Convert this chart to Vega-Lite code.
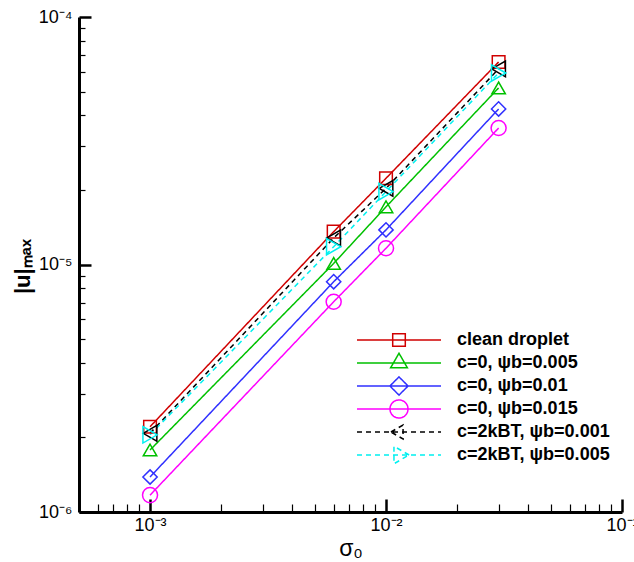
{
  "$schema": "https://vega.github.io/schema/vega-lite/v6.json",
  "width": 543,
  "height": 495,
  "autosize": {"type": "none"},
  "padding": {"left": 79, "top": 17, "right": 12, "bottom": 50},
  "background": "white",
  "config": {"view": {"stroke": null}, "font": "Liberation Sans"},
  "data": {
    "values": [
      {"series": "clean droplet", "sigma": 0.001, "u": 2.21e-6},
      {"series": "clean droplet", "sigma": 0.006, "u": 1.357e-5},
      {"series": "clean droplet", "sigma": 0.01, "u": 2.23e-5},
      {"series": "clean droplet", "sigma": 0.03, "u": 6.58e-5},
      {"series": "c=0, ψb=0.005", "sigma": 0.001, "u": 1.78e-6},
      {"series": "c=0, ψb=0.005", "sigma": 0.006, "u": 1.01e-5},
      {"series": "c=0, ψb=0.005", "sigma": 0.01, "u": 1.71e-5},
      {"series": "c=0, ψb=0.005", "sigma": 0.03, "u": 5.17e-5},
      {"series": "c=0, ψb=0.01", "sigma": 0.001, "u": 1.385e-6},
      {"series": "c=0, ψb=0.01", "sigma": 0.006, "u": 8.52e-6},
      {"series": "c=0, ψb=0.01", "sigma": 0.01, "u": 1.38e-5},
      {"series": "c=0, ψb=0.01", "sigma": 0.03, "u": 4.25e-5},
      {"series": "c=0, ψb=0.015", "sigma": 0.001, "u": 1.17e-6},
      {"series": "c=0, ψb=0.015", "sigma": 0.006, "u": 7.07e-6},
      {"series": "c=0, ψb=0.015", "sigma": 0.01, "u": 1.163e-5},
      {"series": "c=0, ψb=0.015", "sigma": 0.03, "u": 3.56e-5},
      {"series": "c=2kBT, ψb=0.001", "sigma": 0.001, "u": 2.08e-6},
      {"series": "c=2kBT, ψb=0.001", "sigma": 0.006, "u": 1.28e-5},
      {"series": "c=2kBT, ψb=0.001", "sigma": 0.01, "u": 2.03e-5},
      {"series": "c=2kBT, ψb=0.001", "sigma": 0.03, "u": 6.17e-5},
      {"series": "c=2kBT, ψb=0.005", "sigma": 0.001, "u": 2.05e-6},
      {"series": "c=2kBT, ψb=0.005", "sigma": 0.006, "u": 1.18e-5},
      {"series": "c=2kBT, ψb=0.005", "sigma": 0.01, "u": 1.97e-5},
      {"series": "c=2kBT, ψb=0.005", "sigma": 0.03, "u": 5.94e-5}
    ]
  },
  "encoding": {
    "x": {
      "field": "sigma",
      "type": "quantitative",
      "scale": {"type": "log", "domain": [0.0005, 0.1], "nice": false},
      "axis": {
        "values": [0.0006, 0.0007, 0.0008, 0.0009, 0.001, 0.002, 0.003, 0.004, 0.005, 0.006, 0.007, 0.008, 0.009, 0.01, 0.02, 0.03, 0.04, 0.05, 0.06, 0.07, 0.08, 0.09, 0.1],
        "labelExpr": "abs(log(datum.value)/LN10 - round(log(datum.value)/LN10)) < 0.001 ? ['10⁻⁶','10⁻⁵','10⁻⁴','10⁻³','10⁻²','10⁻¹'][round(log(datum.value)/LN10)+6] : ''",
        "tickSize": {"condition": {"test": "abs(log(datum.value)/LN10 - round(log(datum.value)/LN10)) < 0.001", "value": -13}, "value": -8},
        "tickWidth": {"condition": {"test": "abs(log(datum.value)/LN10 - round(log(datum.value)/LN10)) < 0.001", "value": 2.5}, "value": 1.2},
        "tickColor": "black",
        "domainColor": "black",
        "domainWidth": 3,
        "grid": false,
        "labelFont": "Liberation Sans",
        "labelFontSize": 18,
        "labelColor": "black",
        "labelPadding": 17,
        "labelOverlap": false,
        "labelFlush": false,
        "labelBound": false,
        "title": "σ₀",
        "titleFont": "Liberation Sans",
        "titleFontSize": 23,
        "titleFontWeight": "normal",
        "titleColor": "black",
        "titleY": 43,
        "titleBaseline": "alphabetic"
      }
    },
    "y": {
      "field": "u",
      "type": "quantitative",
      "scale": {"type": "log", "domain": [1e-6, 1e-4], "nice": false},
      "axis": {
        "values": [1e-6, 2e-6, 3e-6, 4e-6, 5e-6, 6e-6, 7e-6, 8e-6, 9e-6, 1e-5, 2e-5, 3e-5, 4e-5, 5e-5, 6e-5, 7e-5, 8e-5, 9e-5, 1e-4],
        "labelExpr": "abs(log(datum.value)/LN10 - round(log(datum.value)/LN10)) < 0.001 ? ['10⁻⁶','10⁻⁵','10⁻⁴','10⁻³','10⁻²','10⁻¹'][round(log(datum.value)/LN10)+6] : ''",
        "tickSize": {"condition": {"test": "abs(log(datum.value)/LN10 - round(log(datum.value)/LN10)) < 0.001", "value": -12}, "value": -6},
        "tickWidth": {"condition": {"test": "abs(log(datum.value)/LN10 - round(log(datum.value)/LN10)) < 0.001", "value": 2.5}, "value": 1.2},
        "tickColor": "black",
        "domainColor": "black",
        "domainWidth": 3,
        "grid": false,
        "labelFont": "Liberation Sans",
        "labelFontSize": 18,
        "labelColor": "black",
        "labelPadding": 19,
        "labelOverlap": false,
        "labelFlush": false,
        "labelBound": false,
        "title": "|u|ₘₐₓ",
        "titleFont": "Liberation Sans",
        "titleFontSize": 22,
        "titleFontWeight": "bold",
        "titleColor": "black",
        "titleAngle": -90,
        "titleX": -57,
        "titleY": 249,
        "titleAlign": "center",
        "titleBaseline": "middle"
      }
    }
  },
  "resolve": {
    "scale": {"shape": "independent", "size": "independent", "color": "independent", "strokeDash": "independent"},
    "legend": {"color": "independent", "shape": "independent", "strokeDash": "independent", "size": "independent"}
  },
  "layer": [
    {
      "mark": {"type": "line", "strokeWidth": 1.5},
      "encoding": {
        "color": {
          "field": "series",
          "type": "nominal",
          "scale": {
            "domain": ["clean droplet", "c=0, ψb=0.005", "c=0, ψb=0.01", "c=0, ψb=0.015", "c=2kBT, ψb=0.001", "c=2kBT, ψb=0.005"],
            "range": ["#d00000", "#00c000", "#3030ff", "#ff00ff", "#000000", "#00f0f0"]
          },
          "legend": null
        },
        "strokeDash": {
          "field": "series",
          "type": "nominal",
          "scale": {
            "domain": ["clean droplet", "c=0, ψb=0.005", "c=0, ψb=0.01", "c=0, ψb=0.015", "c=2kBT, ψb=0.001", "c=2kBT, ψb=0.005"],
            "range": [[1, 0], [1, 0], [1, 0], [1, 0], [5, 4], [5, 4]]
          },
          "legend": null
        }
      }
    },
    {
      "mark": {"type": "point", "filled": false, "strokeWidth": 1.5, "opacity": 1},
      "encoding": {
        "color": {
          "field": "series",
          "type": "nominal",
          "scale": {
            "domain": ["clean droplet", "c=0, ψb=0.005", "c=0, ψb=0.01", "c=0, ψb=0.015", "c=2kBT, ψb=0.001", "c=2kBT, ψb=0.005"],
            "range": ["#d00000", "#00c000", "#3030ff", "#ff00ff", "#000000", "#00f0f0"]
          },
          "legend": null
        },
        "shape": {
          "field": "series",
          "type": "nominal",
          "scale": {
            "domain": ["clean droplet", "c=0, ψb=0.005", "c=0, ψb=0.01", "c=0, ψb=0.015", "c=2kBT, ψb=0.001", "c=2kBT, ψb=0.005"],
            "range": ["square", "triangle-up", "diamond", "circle", "triangle-left", "triangle-right"]
          },
          "legend": null
        },
        "size": {
          "field": "series",
          "type": "nominal",
          "scale": {
            "domain": ["clean droplet", "c=0, ψb=0.005", "c=0, ψb=0.01", "c=0, ψb=0.015", "c=2kBT, ψb=0.001", "c=2kBT, ψb=0.005"],
            "range": [160, 270, 340, 300, 170, 280]
          },
          "legend": null
        }
      }
    },
    {
      "mark": {"type": "point", "filled": false, "strokeWidth": 1.5, "opacity": 0, "size": 196},
      "encoding": {
        "color": {
          "field": "series",
          "type": "nominal",
          "scale": {
            "domain": ["clean droplet", "c=0, ψb=0.005", "c=0, ψb=0.01", "c=0, ψb=0.015", "c=2kBT, ψb=0.001", "c=2kBT, ψb=0.005"],
            "range": ["#d00000", "#00c000", "#3030ff", "#ff00ff", "#000000", "#00f0f0"]
          },
          "legend": {
            "orient": "none",
            "legendX": 311,
            "legendY": 314,
            "title": null,
            "padding": 0,
            "labelFont": "Liberation Sans",
            "labelFontSize": 18,
            "labelFontWeight": "bold",
            "labelColor": "black",
            "labelOffset": 49,
            "symbolSize": 196,
            "symbolStrokeWidth": 1.5,
            "symbolOpacity": 1,
            "gridAlign": "all",
            "rowPadding": -3
          }
        },
        "strokeDash": {
          "field": "series",
          "type": "nominal",
          "scale": {
            "domain": ["clean droplet", "c=0, ψb=0.005", "c=0, ψb=0.01", "c=0, ψb=0.015", "c=2kBT, ψb=0.001", "c=2kBT, ψb=0.005"],
            "range": [[1, 0], [1, 0], [1, 0], [1, 0], [5, 4], [5, 4]]
          },
          "legend": null
        },
        "shape": {
          "field": "series",
          "type": "nominal",
          "scale": {
            "domain": ["clean droplet", "c=0, ψb=0.005", "c=0, ψb=0.01", "c=0, ψb=0.015", "c=2kBT, ψb=0.001", "c=2kBT, ψb=0.005"],
            "range": [
              "M-6,0H6M-0.9,-0.9H0.9V0.9H-0.9Z",
              "M-6,0H6M0,-1.39L1.2,0.69L-1.2,0.69Z",
              "M-6,0H6M-1.3,0L0,-1.3L1.3,0L0,1.3Z",
              "M-6,0H6M1.3,0L1.236,0.402L1.052,0.764L0.764,1.052L0.402,1.236L0,1.3L-0.402,1.236L-0.764,1.052L-1.052,0.764L-1.236,0.402L-1.3,0L-1.236,-0.402L-1.052,-0.764L-0.764,-1.052L-0.402,-1.236L0,-1.3L0.402,-1.236L0.764,-1.052L1.052,-0.764L1.236,-0.402Z",
              "M-6,0H6M-1.15,0L0.58,-1L0.58,1Z",
              "M-6,0H6M1.44,0L-0.72,-1.25L-0.72,1.25Z"
            ]
          },
          "legend": null
        }
      }
    }
  ]
}
